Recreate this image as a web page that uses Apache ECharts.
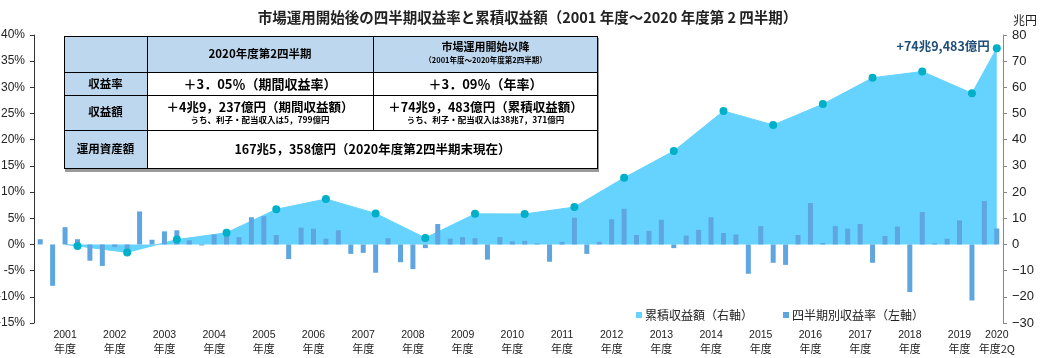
<!DOCTYPE html>
<html>
<head>
<meta charset="utf-8">
<script src="https://cdn.jsdelivr.net/npm/echarts@6/dist/echarts.min.js"></script>
<style>
html,body{margin:0;padding:0;background:#fff;}
#chart{width:1055px;height:358px;}
</style>
</head>
<body>
<div id="chart"></div>
<script>
// ---- data ----
const fiscalYears = ['2001','2002','2003','2004','2005','2006','2007','2008','2009','2010',
  '2011','2012','2013','2014','2015','2016','2017','2018','2019','2020'];
const quarterNames = ['1Q','2Q','3Q','4Q'];
// quarterly return (%), FY2001 1Q ... FY2020 2Q
const quarterlyReturns = [
  1.0, -7.9, 3.3, 1.0,
  -3.1, -4.1, -0.5, -1.6,
  6.3, 0.9, 2.5, 2.7,
  0.8, -0.2, 1.9, 2.0,
  1.4, 5.2, 5.4, 1.8,
  -2.8, 3.2, 3.0, 1.1,
  2.7, -1.8, -1.6, -5.4,
  1.2, -3.4, -4.7, -0.7,
  3.9, 1.1, 1.4, 1.2,
  -2.9, 1.4, 0.6, 0.7,
  0.2, -3.3, 0.5, 5.1,
  -1.8, 0.5, 4.8, 6.8,
  1.8, 2.6, 4.7, -0.7,
  1.7, 2.8, 5.2, 2.2,
  1.9, -5.6, 3.5, -3.5,
  -3.9, 1.8, 7.9, 0.3,
  3.5, 3.0, 3.9, -3.5,
  1.6, 3.4, -9.1, 6.2,
  0.2, 1.1, 4.6, -10.7,
  8.3, 3.05
];
// cumulative return (trillion yen) at each fiscal year end, last = FY2020 2Q
const cumulativeReturns = [-0.58, -3.03, 1.86, 4.47, 13.43, 17.37, 11.85, 2.50, 11.68, 11.65,
  14.27, 25.49, 35.70, 50.99, 45.66, 53.60, 63.68, 66.06, 57.78, 74.95];
const cumulativeStart = 0;
const lastLabel = '+74兆9,483億円';
const yearSuffix = '年度';
const lastSuffix = '年度2Q';

const seriesNames = ['累積収益額（右軸）', '四半期別収益率（左軸）'];
const titleText = '市場運用開始後の四半期収益率と累積収益額（2001 年度～2020 年度第 2 四半期）';

// table texts
const tableHead = ['2020年度第2四半期', '市場運用開始以降', '（2001年度～2020年度第2四半期）'];
const tableRowNames = ['収益率', '収益額', '運用資産額'];
const tableRateCells = ['＋3．05％（期間収益率）', '＋3．09％（年率）'];
const tableAmountCells = ['＋4兆9，237億円（期間収益額）', '＋74兆9，483億円（累積収益額）'];
const tableAmountNotes = ['うち、利子・配当収入は5，799億円', 'うち、利子・配当収入は38兆7，371億円'];
const tableAssets = '167兆5，358億円（2020年度第2四半期末現在）';

// ---- build ----
const nQ = quarterlyReturns.length;
const categories = [];
for (const y of fiscalYears) for (const q of quarterNames) {
  if (categories.length < nQ) categories.push(y + q);
}
const lastIdx = nQ - 1;
const areaData = new Array(nQ).fill(null);
const dotData = new Array(nQ).fill(null);
areaData[2] = {value: cumulativeStart};
cumulativeReturns.forEach((v, i) => {
  const idx = Math.min(i * 4 + 3, lastIdx);
  areaData[idx] = v;
  dotData[idx] = v;
});
dotData[lastIdx] = {
  value: cumulativeReturns[cumulativeReturns.length - 1],
  label: {show: true, position: 'left', distance: 3, formatter: lastLabel,
    color: '#1F4E79', fontWeight: 'bold', fontSize: 12.5, fontFamily: 'Noto Sans CJK JP',
    textBorderWidth: 0, opacity: 1, offset: [0, -2]}
};

function xLabel(val, idx) {
  const yi = Math.floor(idx / 4);
  if (idx === lastIdx) return '{y|' + fiscalYears[yi] + '}\n{n|' + lastSuffix + '}';
  if (idx % 4 === 2) return '{y|' + fiscalYears[yi] + '}\n{n|' + yearSuffix + '}';
  return '';
}

const CJK = 'Noto Sans CJK JP';
const NUM = '"Liberation Sans Narrow", "Liberation Sans", Arial, sans-serif';

// table graphic
const T = {x0: 64, x1: 147, x2: 373, x3: 598, y0: 36, y1: 72, y2: 95, y3: 130, y4: 169};
const blue = '#BDD7EE';
const tg = [];
tg.push({type: 'rect', shape: {x: T.x0 + 1, y: T.y0 + 2, width: T.x3 - T.x0, height: T.y4 - T.y0 + 1}, style: {fill: '#9a9a9a'}, z: 100});
tg.push({type: 'rect', shape: {x: T.x0, y: T.y0, width: T.x3 - T.x0, height: T.y4 - T.y0}, style: {fill: '#fff'}, z: 101});
tg.push({type: 'rect', shape: {x: T.x0, y: T.y0, width: T.x3 - T.x0, height: T.y1 - T.y0}, style: {fill: blue}, z: 102});
tg.push({type: 'rect', shape: {x: T.x0, y: T.y0, width: T.x1 - T.x0, height: T.y4 - T.y0}, style: {fill: blue}, z: 102});
const ln = (x1, y1, x2, y2) => tg.push({type: 'line', shape: {x1, y1, x2, y2}, style: {stroke: '#000', lineWidth: 1}, z: 103});
ln(T.x0, T.y0 + 0.5, T.x3, T.y0 + 0.5);
ln(T.x0, T.y1 + 0.5, T.x3, T.y1 + 0.5);
ln(T.x0, T.y2 + 0.5, T.x3, T.y2 + 0.5);
ln(T.x0, T.y3 + 0.5, T.x3, T.y3 + 0.5);
ln(T.x0, T.y4 - 0.5, T.x3, T.y4 - 0.5);
ln(T.x0 + 0.5, T.y0, T.x0 + 0.5, T.y4);
ln(T.x1 + 0.5, T.y0, T.x1 + 0.5, T.y4);
ln(T.x2 + 0.5, T.y0, T.x2 + 0.5, T.y3);
ln(T.x3 - 0.5, T.y0, T.x3 - 0.5, T.y4);
const tx = (x, y, text, size) => tg.push({type: 'text', x, y, z: 104, style: {text, fill: '#000', font: 'bold ' + size + 'px "' + CJK + '"', textAlign: 'center', textVerticalAlign: 'middle'}});
const c1 = (T.x0 + T.x1) / 2, c2 = (T.x1 + T.x2) / 2, c3 = (T.x2 + T.x3) / 2, c23 = (T.x1 + T.x3) / 2;
tx(c2, 54, tableHead[0], 11.5);
tx(c3, 47, tableHead[1], 11);
tx(c3, 60, tableHead[2], 7.5);
tx(c1, 84, tableRowNames[0], 11.5);
tx(c1, 112, tableRowNames[1], 11.5);
tx(c1, 149, tableRowNames[2], 11.5);
tx(c2, 84, tableRateCells[0], 13);
tx(c3, 84, tableRateCells[1], 13);
tx(c2, 107, tableAmountCells[0], 12.5);
tx(c3, 107, tableAmountCells[1], 12.5);
tx(c2, 120, tableAmountNotes[0], 8.5);
tx(c3, 120, tableAmountNotes[1], 8.5);
tx(c23, 149, tableAssets, 12.5);
tg.push({type: 'text', x: 1025, y: 20, z: 104, style: {text: '兆円', fill: '#222', font: '12px "' + CJK + '"', textAlign: 'center', textVerticalAlign: 'middle'}});

const chart = echarts.init(document.getElementById('chart'), null, {renderer: 'canvas'});
chart.setOption({
  animation: false,
  backgroundColor: '#fff',
  title: {text: titleText, left: 'center', top: 5,
    textStyle: {fontSize: 14.5, fontWeight: 'bold', color: '#222', fontFamily: CJK}},
  grid: {left: 34, right: 52, top: 35, bottom: 35, containLabel: false, outerBoundsMode: 'none'},
  legend: {
    data: seriesNames, left: 631, top: 304, icon: 'rect', itemWidth: 6, itemHeight: 6, itemGap: 30,
    textStyle: {fontSize: 12, color: '#222', fontFamily: CJK, padding: [0, 0, 0, -2]}
  },
  xAxis: {
    type: 'category', data: categories, boundaryGap: true,
    axisLine: {show: false}, axisTick: {show: false},
    axisLabel: {interval: 0, margin: 5, formatter: xLabel, color: '#222',
      rich: {y: {fontSize: 10.5, fontFamily: NUM, lineHeight: 14, color: '#222'},
             n: {fontSize: 11, fontFamily: CJK, lineHeight: 14, color: '#222'}}}
  },
  yAxis: [{
    type: 'value', min: -15, max: 40, interval: 5, position: 'left',
    axisLine: {show: true, lineStyle: {color: '#333', width: 1}},
    axisTick: {show: true, length: 4, lineStyle: {color: '#333'}},
    splitLine: {show: false},
    axisLabel: {formatter: '{value}%', color: '#222', fontSize: 12, fontFamily: NUM, margin: 9}
  }, {
    type: 'value', min: -30, max: 80, interval: 10, position: 'right',
    axisLine: {show: true, lineStyle: {color: '#888', width: 1}},
    axisTick: {show: true, length: 4, lineStyle: {color: '#888'}},
    splitLine: {show: false},
    axisLabel: {formatter: v => String(v).replace('-', '−'), color: '#222', fontSize: 13, fontFamily: NUM, margin: 9}
  }],
  series: [{
    name: seriesNames[0], type: 'line', yAxisIndex: 1, data: areaData, connectNulls: true,
    symbol: 'none', color: '#66D3FF',
    lineStyle: {color: '#66D3FF', width: 1},
    areaStyle: {color: '#66D3FF', opacity: 1},
    z: 1
  }, {
    name: seriesNames[1], type: 'bar', yAxisIndex: 0, data: quarterlyReturns, barWidth: 5,
    itemStyle: {color: '#5FA5DF'}, z: 2
  }, {
    name: 'dots', type: 'scatter', yAxisIndex: 1, data: dotData, symbol: 'circle', symbolSize: 8,
    itemStyle: {color: '#00AFC8', opacity: 1}, z: 3,
    emphasis: {disabled: true}
  }],
  graphic: tg
});
</script>
</body>
</html>
